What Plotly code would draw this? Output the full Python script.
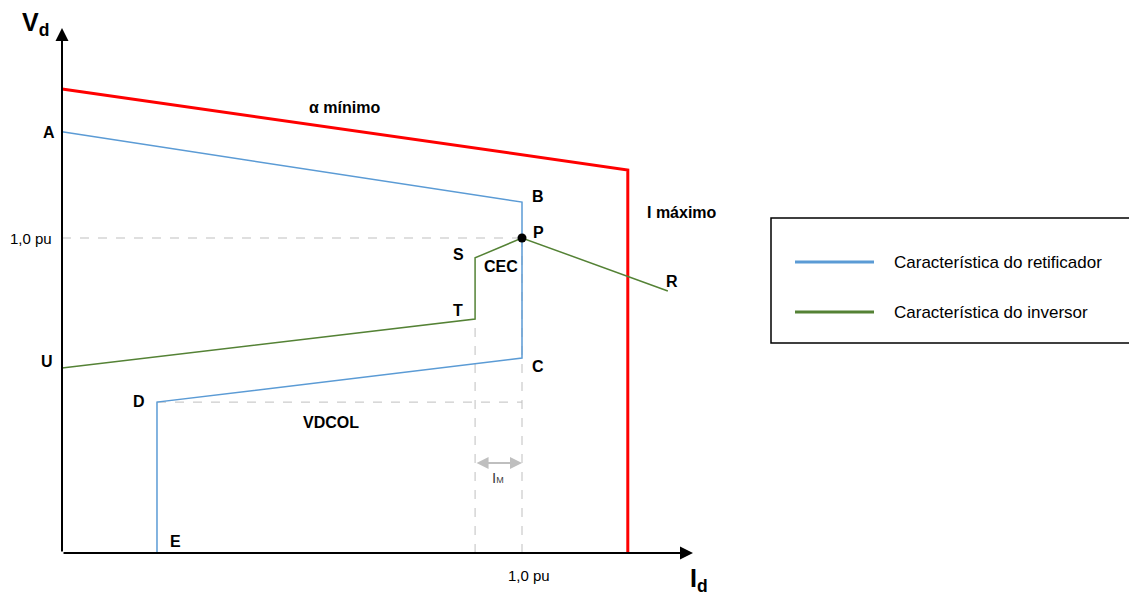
import plotly.graph_objects as go

# ---- data (per-unit coordinates) ----
red_x = [0.0, 1.230, 1.230]
red_y = [1.473, 1.216, 0.0]

rect_labels = ["A", "B", "C", "D", "E"]
rect_x = [0.0, 1.0, 1.0, 0.2065, 0.2065]
rect_y = [1.337, 1.114, 0.619, 0.479, 0.0]

inv_labels = ["U", "T", "S", "P", "R"]
inv_x = [0.0, 0.898, 0.898, 1.0, 1.317]
inv_y = [0.587, 0.743, 0.937, 1.0, 0.832]

legend_names = ["Característica do retificador", "Característica do inversor"]

BLUE = "#5B9BD5"
GREEN = "#548235"
RED = "#FF0000"
GRAY = "#BFBFBF"
FONT = "Liberation Sans, Arial, sans-serif"

# page-pixel mapping (page body has an 8px margin; figure fills the rest)
PAD = 8
X0, XS = 62, 460.0
Y0, YS = 553, 315.0
W, H = 1137, 596
xr = [(PAD - X0) / XS, (W - X0) / XS]
yr = [(Y0 - H) / YS, (Y0 - PAD) / YS]


def px2x(p):
    return (p - X0) / XS


def py2y(p):
    return (Y0 - p) / YS


fig = go.Figure()

# dashed guides
P_x, P_y = inv_x[3], inv_y[3]
dash = dict(color=GRAY, width=1, dash="dash")
fig.add_trace(go.Scatter(x=[0, P_x], y=[P_y, P_y], mode="lines", line=dash, hoverinfo="skip"))
fig.add_trace(go.Scatter(x=[rect_x[3], rect_x[2]], y=[rect_y[3], rect_y[3]], mode="lines",
                         line=dash, hoverinfo="skip"))
fig.add_trace(go.Scatter(x=[inv_x[1], inv_x[1]], y=[0, inv_y[1]], mode="lines",
                         line=dash, hoverinfo="skip"))
fig.add_trace(go.Scatter(x=[P_x, P_x], y=[0, P_y], mode="lines", line=dash, hoverinfo="skip"))

# main curves
fig.add_trace(go.Scatter(x=red_x, y=red_y, mode="lines", line=dict(color=RED, width=3)))
fig.add_trace(go.Scatter(x=rect_x, y=rect_y, mode="lines", line=dict(color=BLUE, width=1.5)))
fig.add_trace(go.Scatter(x=inv_x, y=inv_y, mode="lines", line=dict(color=GREEN, width=1.5)))
fig.add_trace(go.Scatter(x=[P_x], y=[P_y], mode="markers", marker=dict(color="black", size=9)))

ann = []

# axes with arrows
ann.append(dict(x=0, y=py2y(28), ax=0, ay=0, axref="x", ayref="y", xref="x", yref="y",
                showarrow=True, arrowhead=2, arrowsize=1.3, arrowwidth=2, arrowcolor="black", text=""))
ann.append(dict(x=px2x(693), y=0, ax=0, ay=0, axref="x", ayref="y", xref="x", yref="y",
                showarrow=True, arrowhead=2, arrowsize=1.3, arrowwidth=2, arrowcolor="black", text=""))

# I_M double arrow
ann.append(dict(x=P_x, y=py2y(463), ax=inv_x[1], ay=py2y(463), axref="x", ayref="y",
                xref="x", yref="y", showarrow=True, arrowhead=2, startarrowhead=2,
                arrowside="end+start", arrowsize=1.2, startarrowsize=1.2,
                arrowwidth=2, arrowcolor=GRAY, text=""))
ann.append(dict(x=px2x(498), y=py2y(477),
                text="I<span style='font-size:9px'>M</span>", showarrow=False,
                font=dict(family=FONT, size=15, color="#404040")))


def lab(t, px, py, xanchor="center", size=16):
    ann.append(dict(x=px2x(px), y=py2y(py), text="<b>%s</b>" % t, showarrow=False,
                    xanchor=xanchor, font=dict(family=FONT, size=size, color="black")))


# point labels (pixel offsets from their points)
offs = {"A": (-13, 1), "B": (16, -6), "C": (16, 8), "D": (-18, -1), "E": (19, -12),
        "U": (-15, -7), "T": (-17, -8), "S": (-17, -3), "P": (16, -6), "R": (4, -9)}
for L, xv, yv in list(zip(rect_labels, rect_x, rect_y)) + list(zip(inv_labels, inv_x, inv_y)):
    dx, dy = offs[L]
    lab(L, X0 + xv * XS + dx, Y0 - yv * YS + dy)

lab("CEC", 501, 266)
lab("α mínimo", 344, 107)
lab("I máximo", 645, 212, xanchor="left")
lab("VDCOL", 331, 422)

ann.append(dict(x=px2x(31), y=P_y, text="1,0 pu", showarrow=False,
                font=dict(family=FONT, size=15, color="black")))
ann.append(dict(x=px2x(529), y=py2y(575), text="1,0 pu", showarrow=False,
                font=dict(family=FONT, size=15, color="black")))

ann.append(dict(x=px2x(35), y=py2y(24), text="<b>V<sub>d</sub></b>", showarrow=False,
                font=dict(family=FONT, size=25, color="black")))
ann.append(dict(x=px2x(699), y=py2y(580), text="<b>I<sub>d</sub></b>", showarrow=False,
                font=dict(family=FONT, size=25, color="black")))

# legend box (drawn manually)
shapes = [dict(type="rect", xref="x", yref="y", x0=px2x(771), x1=px2x(1145),
               y0=py2y(343), y1=py2y(218), line=dict(color="black", width=1.5))]
for i, (name, col) in enumerate(zip(legend_names, [BLUE, GREEN])):
    yy = py2y(262 + 50 * i)
    shapes.append(dict(type="line", xref="x", yref="y", x0=px2x(795), x1=px2x(874),
                       y0=yy, y1=yy, line=dict(color=col, width=3)))
    ann.append(dict(x=px2x(892), y=yy, text=name, showarrow=False, xanchor="left",
                    font=dict(family=FONT, size=17, color="black")))

fig.update_layout(
    width=W - PAD, height=H - PAD, margin=dict(l=0, r=0, t=0, b=0),
    paper_bgcolor="white", plot_bgcolor="white", showlegend=False,
    xaxis=dict(range=xr, visible=False, fixedrange=True),
    yaxis=dict(range=yr, visible=False, fixedrange=True),
    annotations=ann, shapes=shapes,
)
fig.write_html("out.html")
